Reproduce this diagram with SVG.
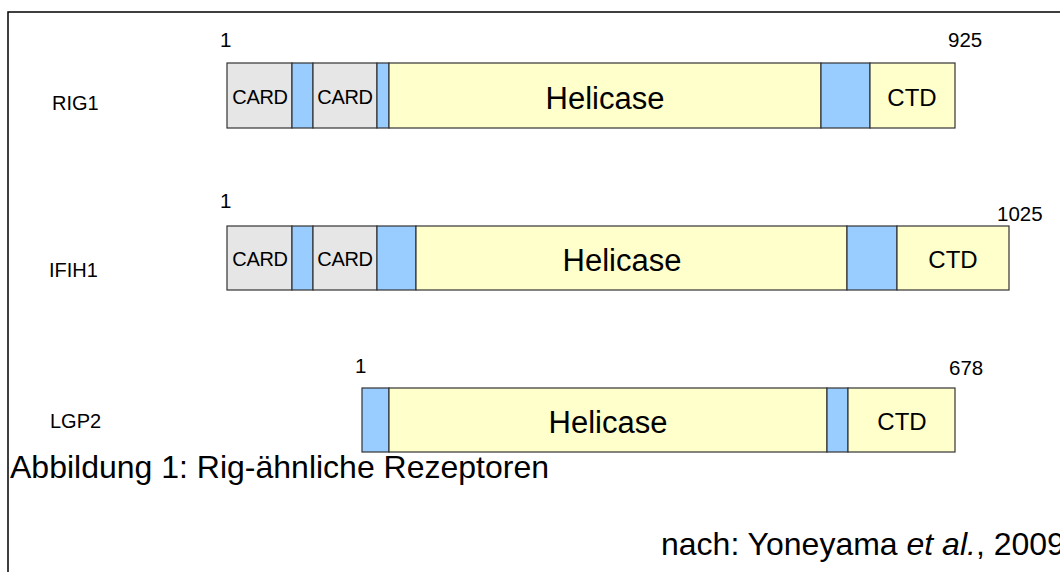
<svg xmlns="http://www.w3.org/2000/svg" width="1060" height="572" viewBox="0 0 1060 572">
<style>
text{font-family:"Liberation Sans",Arial,sans-serif;fill:#000}
.card{fill:#e6e6e6;stroke:#333;stroke-width:1.2}
.link{fill:#99ccff;stroke:#333;stroke-width:1.2}
.hel{fill:#ffffcc;stroke:#333;stroke-width:1.2}
.name{font-size:20px}
.num{font-size:20.5px}
.cardt{font-size:20px;text-anchor:middle;letter-spacing:-0.3px}
.helt{font-size:31px;text-anchor:middle}
.ctdt{font-size:24px;text-anchor:middle}
.cap{font-size:32px}
</style>
<rect x="8" y="12" width="1100" height="600" fill="#fff" stroke="#000" stroke-width="1.5"/>
<g id="rig1">
<text class="name" x="52" y="110">RIG1</text>
<text class="num" x="220" y="47">1</text>
<text class="num" x="948" y="47">925</text>
<rect class="card" x="227" y="63" width="65" height="65"/>
<rect class="link" x="292" y="63" width="21" height="65"/>
<rect class="card" x="313" y="63" width="64" height="65"/>
<rect class="link" x="377" y="63" width="12" height="65"/>
<rect class="hel" x="389" y="63" width="432" height="65"/>
<rect class="link" x="821" y="63" width="49" height="65"/>
<rect class="hel" x="870" y="63" width="85" height="65"/>
<text class="cardt" x="260" y="104">CARD</text>
<text class="cardt" x="345" y="104">CARD</text>
<text class="helt" x="605" y="109">Helicase</text>
<text class="ctdt" x="912" y="106">CTD</text>
</g>
<g id="ifih1">
<text class="name" x="49" y="277">IFIH1</text>
<text class="num" x="220" y="208">1</text>
<text class="num" x="997" y="221">1025</text>
<rect class="card" x="227" y="226" width="65" height="64"/>
<rect class="link" x="292" y="226" width="21" height="64"/>
<rect class="card" x="313" y="226" width="64" height="64"/>
<rect class="link" x="377" y="226" width="39" height="64"/>
<rect class="hel" x="416" y="226" width="431" height="64"/>
<rect class="link" x="847" y="226" width="50" height="64"/>
<rect class="hel" x="897" y="226" width="112" height="64"/>
<text class="cardt" x="260" y="266">CARD</text>
<text class="cardt" x="345" y="266">CARD</text>
<text class="helt" x="622" y="271">Helicase</text>
<text class="ctdt" x="953" y="268">CTD</text>
</g>
<g id="lgp2">
<text class="name" x="50" y="428">LGP2</text>
<text class="num" x="355" y="373">1</text>
<text class="num" x="949" y="375">678</text>
<rect class="link" x="362" y="388" width="27" height="64"/>
<rect class="hel" x="389" y="388" width="438" height="64"/>
<rect class="link" x="827" y="388" width="21" height="64"/>
<rect class="hel" x="848" y="388" width="107" height="64"/>
<text class="helt" x="608" y="433">Helicase</text>
<text class="ctdt" x="902" y="430">CTD</text>
</g>
<g id="connectors"></g>
<g id="captions">
<text class="cap" x="10" y="478">Abbildung 1: Rig-ähnliche Rezeptoren</text>
<text class="cap" x="661" y="555">nach: Yoneyama <tspan font-style="italic">et al.</tspan>, 2009</text>
</g>
</svg>
